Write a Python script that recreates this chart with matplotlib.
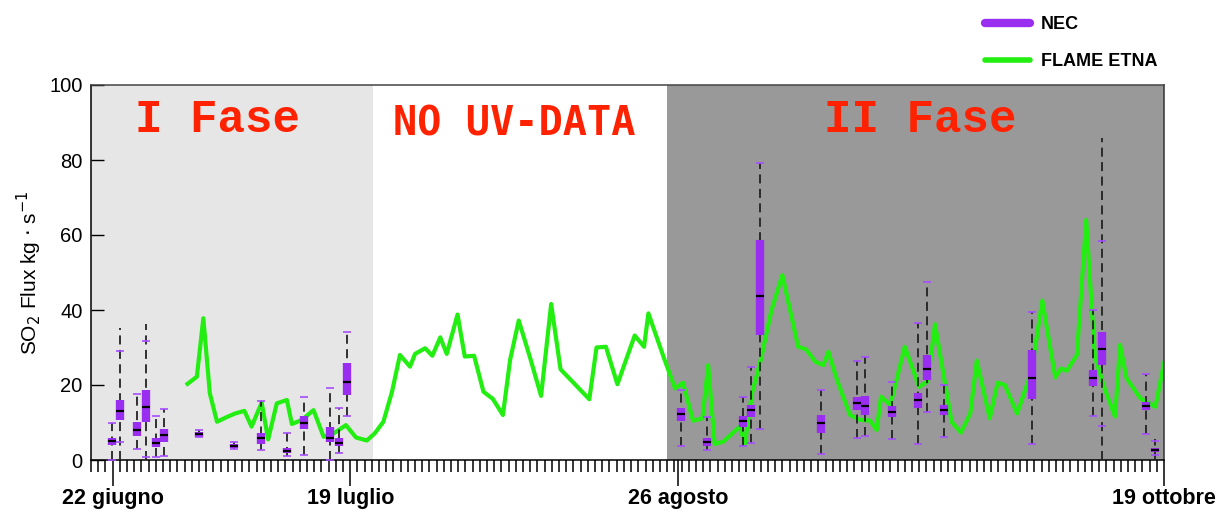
import matplotlib.pyplot as plt
from matplotlib.lines import Line2D
import numpy as np

plt.rcParams['font.family'] = ['Liberation Sans', 'DejaVu Sans']

# x axis is in tick units (one small tick = one unit)
tick_pos = [3, 36, 81.5, 149]
tick_labels = ["22 giugno", "19 luglio", "26 agosto", "19 ottobre"]

phase1 = [0, 39.2]
phase2 = [80, 149]

# FLAME ETNA daily flux
flame_t = [13.4, 14.7, 15.6, 16.5, 17.5, 18.8, 20.0, 21.3, 22.3, 23.7, 24.6, 25.8, 27.2, 27.9,
           29.3, 30.9, 32.3, 33.7, 35.4, 36.8, 38.3, 39.4, 40.6, 41.8, 42.9, 44.3, 45.0, 46.4,
           47.4, 48.5, 49.4, 50.9, 51.9, 53.2, 54.5, 55.8, 57.2, 58.2, 59.4, 61.0, 62.5, 63.9,
           65.2, 67.2, 69.2, 70.2, 71.5, 73.1, 74.3, 75.5, 76.8, 77.4, 79.6, 81.1, 82.2, 83.6,
           84.9, 85.7, 86.6, 87.8, 90.1, 90.8, 91.8, 92.9, 94.5, 96.0, 98.2, 99.3, 100.6, 101.7,
           102.4, 103.6, 105.4, 106.8, 108.2, 109.1, 109.7, 111.0, 113.0, 115.0, 116.2, 117.2,
           119.5, 120.8, 122.1, 123.0, 124.8, 125.9, 126.9, 128.6, 130.6, 132.1, 133.9, 134.7,
           135.5, 136.9, 138.2, 139.4, 140.8, 142.2, 142.9, 143.8, 145.7, 147.8, 149.0]
flame_flux = [20.3, 22.2, 37.8, 17.8, 10.2, 11.4, 12.4, 13.1, 8.9, 15.3, 5.5, 15.1, 16.0, 9.6,
              10.7, 13.3, 6.2, 7.1, 9.3, 6.0, 5.2, 7.1, 10.2, 18.2, 28.0, 24.9, 28.3, 29.8,
              27.8, 32.7, 28.3, 38.8, 27.6, 27.8, 18.2, 16.3, 12.0, 26.7, 37.2, 27.1, 17.1, 41.6,
              24.2, 20.2, 16.2, 30.0, 30.2, 20.2, 26.7, 33.2, 30.2, 39.1, 27.0, 19.1, 20.6, 10.5,
              11.1, 25.3, 4.3, 4.9, 8.9, 4.4, 17.9, 25.8, 40.0, 49.3, 30.2, 29.5, 26.2, 25.3,
              28.9, 21.3, 12.0, 10.7, 10.5, 8.0, 16.9, 14.7, 30.2, 19.5, 21.0, 36.2,
              10.2, 7.3, 12.4, 26.5, 11.1, 20.6, 20.0, 12.4, 23.6, 42.5, 22.0, 24.4,
              23.8, 28.0, 64.0, 27.6, 18.8, 11.6, 30.7, 21.8, 16.5, 14.2, 25.8]

# NEC box statistics
nec_t = [2.9, 4.0, 6.4, 7.6, 9.0, 10.1, 15.0, 19.9, 23.6, 27.2, 29.6, 33.2, 34.4, 35.6,
         81.9, 85.6, 90.5, 91.6, 92.9, 101.4, 106.3, 107.5, 111.2, 114.8, 116.1, 118.4,
         130.7, 139.2, 140.4, 146.5, 147.7]
nec_lo = [0, 0, 2.9, 0, 0.9, 1.2, 6.2, 2.9, 2.7, 1.1, 1.3, 0, 1.8, 11.7,
          3.8, 2.7, 3.8, 4.6, 8.4, 1.6, 6.0, 6.5, 5.5, 4.2, 12.9, 6.2,
          4.2, 11.8, 0, 6.9, 0]
cap_lo = [0, 4.9, 2.9, 0.8, 0.9, 1.2, 6.2, 2.9, 2.7, 1.1, 1.3, 0, 1.8, 11.7,
          3.8, 2.7, 3.8, 4.6, 8.4, 1.6, 6.0, 6.5, 5.5, 4.2, 12.9, 6.2,
          4.2, 11.8, 9.2, 6.9, 1.3]
nec_q1 = [4.0, 10.7, 6.4, 10.2, 3.6, 4.9, 6.2, 3.1, 4.3, 1.8, 8.2, 4.7, 3.8, 17.3,
          10.5, 3.7, 8.9, 11.6, 33.3, 7.3, 13.3, 12.0, 11.4, 13.8, 21.3, 12.0,
          16.4, 19.7, 25.3, 13.3, 2.2]
nec_med = [5.1, 13.2, 8.0, 14.2, 4.6, 6.6, 6.9, 3.7, 5.8, 2.4, 10.0, 5.8, 4.6, 20.9,
           12.3, 4.9, 10.5, 13.3, 43.7, 10.0, 15.1, 14.5, 12.9, 16.0, 24.4, 13.3,
           21.8, 21.8, 29.6, 14.4, 2.7]
nec_q3 = [6.0, 16.0, 10.2, 18.7, 5.8, 8.2, 7.6, 4.3, 7.1, 3.3, 11.7, 8.9, 5.8, 25.8,
          14.0, 6.0, 11.8, 14.7, 58.8, 12.0, 16.7, 17.1, 14.5, 17.8, 28.0, 14.7,
          29.3, 24.0, 34.2, 15.6, 3.1]
cap_hi = [9.8, 29.1, 17.5, 31.7, 11.7, 13.6, 8.0, 4.9, 15.8, 7.1, 16.9, 19.1, 13.9, 34.2,
          18.8, 11.6, 16.9, 24.9, 79.1, 18.7, 26.5, 27.4, 20.7, 36.6, 47.6, 20.0,
          39.4, 40.0, 58.4, 22.9, 5.1]
nec_hi = [9.8, 35.1, 17.5, 36.4, 11.7, 13.6, 8.0, 4.9, 15.8, 7.1, 16.9, 19.1, 13.9, 34.2,
          18.8, 11.6, 16.9, 24.9, 79.1, 18.7, 26.5, 27.4, 20.7, 36.6, 47.6, 20.0,
          39.4, 40.0, 86.0, 22.9, 5.6]

purple = '#9a2ef0'
cap_purple = '#a64dff'
green = '#22ee11'
red = '#ff2200'


def main():
    fig = plt.figure(figsize=(12.25, 5.13), dpi=100)
    ax = fig.add_axes([91 / 1225, 1 - 460 / 513, 1073 / 1225, 375 / 513])

    ax.axvspan(phase1[0], phase1[1], color='#e6e6e6', lw=0, zorder=0)
    ax.axvspan(phase2[0], phase2[1], color='#999999', lw=0, zorder=0)

    ax.plot(flame_t, flame_flux, color=green, lw=3, zorder=2)

    ax.vlines(nec_t, nec_lo, nec_hi, colors='#222222', linestyles=(0, (5, 3)), lw=1.3, zorder=3)
    ax.vlines(nec_t, nec_q1, nec_q3, colors=purple, lw=6, zorder=4)
    ax.scatter(nec_t, nec_med, marker='_', s=40, color='k', linewidths=1.6, zorder=5)
    ax.scatter(nec_t + nec_t, cap_lo + cap_hi, marker='_', s=30, color=cap_purple,
               linewidths=1.2, zorder=5)

    mono = ['Liberation Mono', 'DejaVu Sans Mono']
    ax.text(17.6, 87.5, 'I Fase', family=mono, fontweight='bold', fontsize=33,
            color=red, ha='center', va='baseline')
    ax.text(58.8, 86.6, 'NO UV-DATA', family=['DejaVu Sans Mono'], fontweight='bold',
            fontsize=29, color=red, ha='center', va='baseline')
    ax.text(115.1, 87.5, 'II Fase', family=mono, fontweight='bold', fontsize=33,
            color=red, ha='center', va='baseline')

    ax.set_xlim(0, 149)
    ax.set_ylim(0, 100)
    ax.set_xticks(tick_pos)
    ax.set_xticklabels(tick_labels, fontweight='bold', fontsize=15.5)
    ax.set_xticks(np.arange(0, 150), minor=True)
    ax.tick_params(axis='x', which='major', direction='out', length=19, width=1.1, pad=1)
    ax.tick_params(axis='x', which='minor', direction='out', length=8.5, width=1.1)
    ax.set_yticks(range(0, 101, 20))
    ax.tick_params(axis='y', direction='in', length=9, width=1, labelsize=14.5, pad=6)

    ax.set_ylabel('SO$_2$ Flux kg $\\cdot$ s$^{-1}$', fontsize=15)
    ax.yaxis.set_label_coords(-0.044, 0.5)

    for s in ax.spines.values():
        s.set_linewidth(1.1)
    ax.spines['top'].set_color('#444444')
    ax.spines['right'].set_color('#333333')

    handles = [Line2D([], [], color=purple, lw=6, solid_capstyle='round'),
               Line2D([], [], color=green, lw=4, solid_capstyle='round')]
    fig.legend(handles, ['NEC', 'FLAME ETNA'], loc='upper left',
               bbox_to_anchor=(985 / 1225, 1 - 16 / 513), frameon=False,
               prop={'weight': 'bold', 'size': 13}, handlelength=2.5,
               handletextpad=0.6, labelspacing=1.1, borderpad=0, borderaxespad=0)

    fig.savefig('out.png', dpi=100)


if __name__ == "__main__": main()
